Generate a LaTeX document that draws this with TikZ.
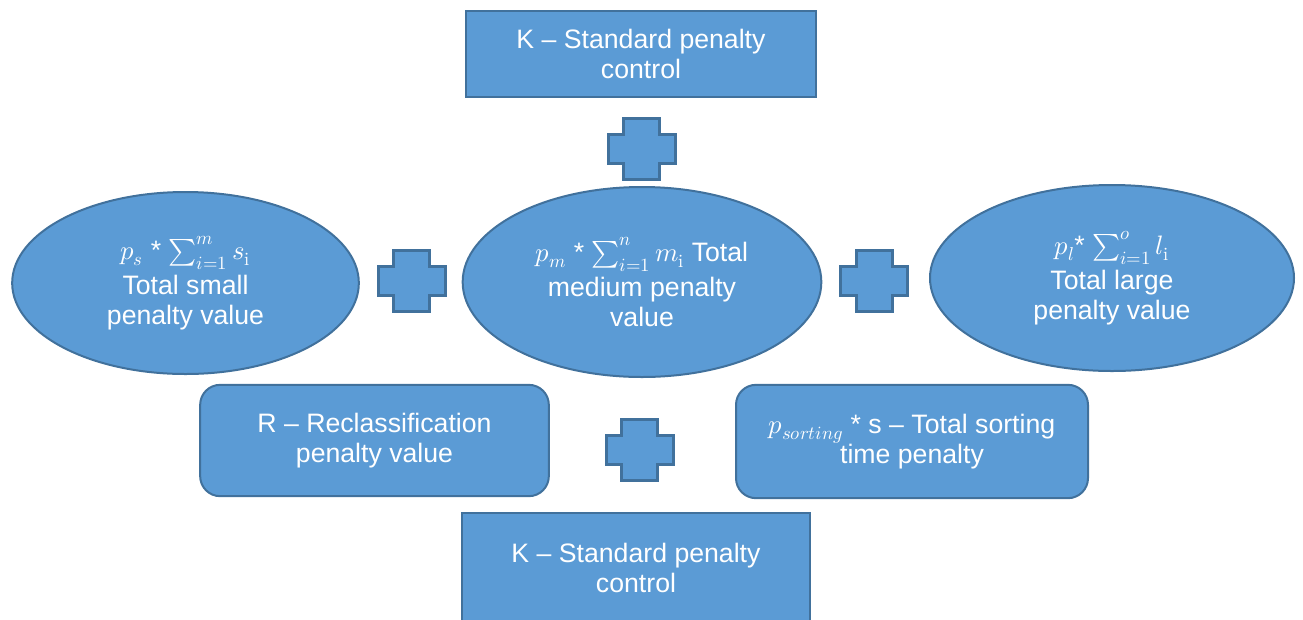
\documentclass[tikz,border=0pt]{standalone}
\usepackage{unicode-math}
\setmainfont{Liberation Sans}
\setmathfont{Latin Modern Math}
\usetikzlibrary{shapes.geometric}
\definecolor{penaltyfill}{HTML}{5B9BD5}
\definecolor{penaltyline}{HTML}{41719C}

\begin{document}
\begin{tikzpicture}[x=0.75pt, y=-0.75pt,
    every node/.style={text=white, font=\fontsize{20}{22.5}\selectfont, align=center, inner sep=0pt, outer sep=0pt},
    penaltybox/.style={draw=penaltyline, fill=penaltyfill, line width=1.5pt, minimum width=262pt, minimum height=64.5pt},
    penaltyround/.style={penaltybox, rounded corners=15pt},
    penaltyoval/.style={ellipse, draw=penaltyline, fill=penaltyfill, line width=1.5pt},
    plussign/.pic={
        \draw[penaltyline, fill=penaltyfill, line width=2.25pt, line join=miter]
            (-18,-30.5) -- (18,-30.5) -- (18,-14.5) -- (33.5,-14.5) -- (33.5,14.5) -- (18,14.5)
            -- (18,30.5) -- (-18,30.5) -- (-18,14.5) -- (-33.5,14.5) -- (-33.5,-14.5) -- (-18,-14.5) -- cycle;
    }]
    \useasboundingbox (0,0) rectangle (1303,619);

    % Top and bottom control boxes
    \node[penaltybox] (ktop) at (641,54) {K -- Standard penalty\\control};
    \node[penaltybox, minimum width=261pt, minimum height=83pt] (kbottom) at (636,568) {K -- Standard penalty\\control};

    % Penalty value ovals
    \node[penaltyoval, minimum width=260pt, minimum height=136.5pt] (small) at (185.5,283)
        {$p_s$ * $\sum_{i=1}^{m} s_{\symup{i}}$\\[4pt]Total small\\penalty value};
    \node[penaltyoval, minimum width=269pt, minimum height=142.5pt] (medium) at (642,282)
        {$p_m$ * $\sum_{i=1}^{n} m_{\symup{i}}$ Total\\[4pt]medium penalty\\value};
    \node[penaltyoval, minimum width=273pt, minimum height=139.5pt] (large) at (1112,278)
        {$p_l$* $\sum_{i=1}^{o} l_{\symup{i}}$\\[4pt]Total large\\penalty value};

    % Reclassification and sorting boxes
    \node[penaltyround, minimum width=261.5pt, minimum height=83.5pt] (reclass) at (374.5,440.5)
        {R -- Reclassification\\penalty value};
    \node[penaltyround, minimum width=264pt, minimum height=85pt] (sorting) at (912,441.5)
        {$p_{sorting}$ * s -- Total sorting\\time penalty};

    % Plus signs
    \pic at (641.5,149) {plussign};
    \pic at (411.5,281) {plussign};
    \pic at (874,281) {plussign};
    \pic at (639.5,450) {plussign};
\end{tikzpicture}
\end{document}
